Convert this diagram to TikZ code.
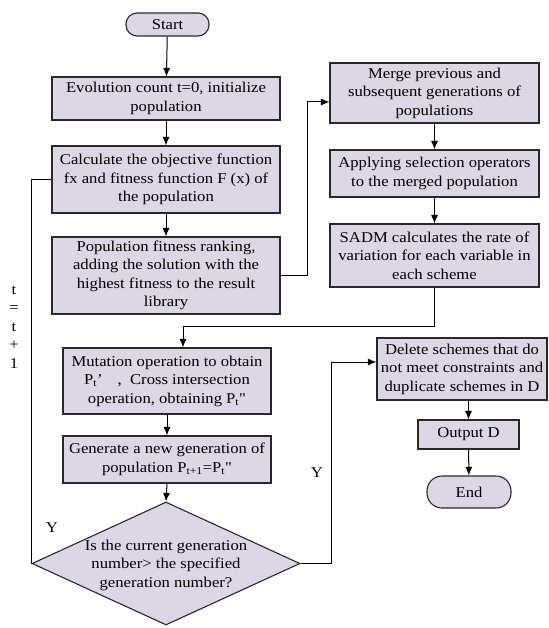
\documentclass[tikz,border=0pt]{standalone}
\usepackage{fontspec}
\defaultfontfeatures[\rmfamily]{}
\setmainfont{Liberation Serif}[FakeStretch=1.11]
\usetikzlibrary{arrows.meta,shapes.geometric}
\definecolor{boxfill}{RGB}{221,215,229}
\definecolor{boxline}{RGB}{40,40,40}
\begin{document}
\begin{tikzpicture}[x=1pt,y=-1pt,
  font=\fontsize{15}{18.5}\selectfont,
  every node/.style={inner sep=0pt, align=center},
  box/.style={draw=boxline, fill=boxfill, line width=1.1pt, rectangle},
  term/.style={box, rounded corners=11pt},
  arr/.style={line width=1pt, -{Latex[length=8.5pt,width=7pt]}},
  plain/.style={line width=1pt}]
\useasboundingbox (0,0) rectangle (548,628);

\node[term, minimum width=83pt, minimum height=23pt] (start) at (167.5,24.5) {Start};
\node[box, minimum width=228pt, minimum height=43pt] (b1) at (166,98.5) {Evolution count t=0, initialize\\population};
\node[box, minimum width=228pt, minimum height=67pt] (b2) at (166,179.5) {Calculate the objective function\\fx and fitness function F (x) of\\the population};
\node[box, minimum width=228pt, minimum height=77pt] (b3) at (166,275.5) {Population fitness ranking,\\adding the solution with the\\highest fitness to the result\\library};

\node[box, minimum width=209pt, minimum height=60pt] (m1) at (434.5,93) {Merge previous and\\subsequent generations of\\populations};
\node[box, minimum width=209pt, minimum height=47pt] (m2) at (434.5,173.5) {Applying selection operators\\to the merged population};
\node[box, minimum width=209pt, minimum height=63pt] (m3) at (434.5,255.5) {SADM calculates the rate of\\variation for each variable in\\each scheme};

\node[box, minimum width=208pt, minimum height=66pt] (mut) at (167,381) {Mutation operation to obtain\\P\textsubscript{t}’\quad,\ \ Cross intersection\\operation, obtaining P\textsubscript{t}"};
\node[box, minimum width=208pt, minimum height=47pt] (gen) at (167,459.5) {Generate a new generation of\\population P\textsubscript{t+1}=P\textsubscript{t}"};
\node[diamond, draw=boxline, fill=boxfill, line width=1.1pt, minimum width=268pt, minimum height=123pt, aspect=2.18] (dia) at (166,563.5) {};
\node (diatext) at (166,565) {Is the current generation\\number> the specified\\generation number?};

\node[box, minimum width=170pt, minimum height=62pt] (del) at (462,369) {Delete schemes that do\\not meet constraints and\\duplicate schemes in D};
\node[box, minimum width=101pt, minimum height=29pt] (out) at (468.5,434.5) {Output D};
\node[term, minimum width=84pt, minimum height=32pt, rounded corners=15pt] (end) at (469,492) {End};

\node (tlab) at (14,327) {\fontsize{15}{17.2}\selectfont t\\=\\t\\+\\1};
\node (y1) at (52,528) {Y};
\node (y2) at (317,473) {Y};

\draw[arr] (start) -- (b1);
\draw[arr] (b1) -- (b2);
\draw[arr] (b2) -- (b3);
\draw[arr] (b3.east) -- ++(27,0) |- ([yshift=-9pt]m1.west);
\draw[arr] (m1) -- (m2);
\draw[arr] (m2) -- (m3);
\draw[arr] (m3.south) -- ++(0,39) -| ([xshift=16pt]mut.north);
\draw[arr] (mut) -- (gen);
\draw[arr] (gen.south) -- (dia.north);
\draw[arr] (dia.east) -- ++(31,0) |- ([yshift=7pt]del.west);
\draw[arr] (out.north |- del.south) -- (out.north);
\draw[arr] (out) -- (end);
\draw[plain] (dia.west) |- (b2.west);
\end{tikzpicture}
\end{document}
